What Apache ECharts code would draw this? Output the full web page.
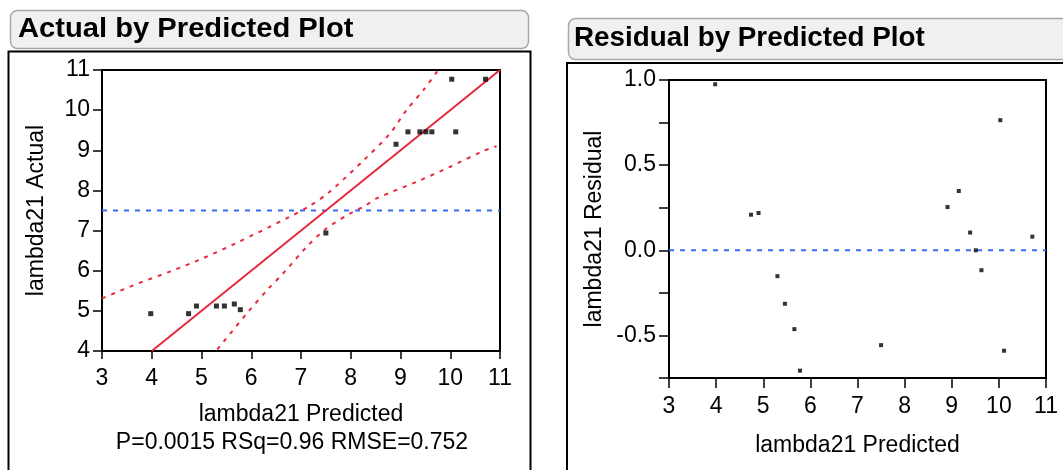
<!DOCTYPE html>
<html><head><meta charset="utf-8">
<script src="https://cdn.jsdelivr.net/npm/echarts@6/dist/echarts.min.js"></script>
<style>html,body{margin:0;padding:0;background:#fff;}#c{width:1063px;height:470px;}</style>
</head><body><div id="c"></div>
<script>
const predicted = [3.98, 4.74, 4.90, 5.30, 5.46, 5.66, 5.78, 7.50, 8.91, 9.15, 9.39, 9.51, 9.63, 10.03, 10.11, 10.71];
const actual    = [4.93, 4.93, 5.12, 5.12, 5.12, 5.17, 5.03, 6.94, 9.15, 9.46, 9.46, 9.46, 9.46, 10.77, 9.46, 10.77];
const residual  = [0.975, 0.209, 0.219, -0.152, -0.314, -0.463, -0.707, -0.557, 0.254, 0.348, 0.104, 0.0, -0.117, 0.764, -0.59, 0.08];
const fitLine   = [[4, 4], [11, 11]];
const meanActual = 7.5;
const upperCurve = [[3.0,5.31],[3.72,5.68],[4.39,5.99],[5.03,6.31],[5.70,6.69],[6.77,7.34],[7.17,7.61],[7.56,7.95],[8.25,8.74],[8.79,9.42],[9.12,10.0],[9.46,10.5],[9.76,11.0]];
const lowerCurve = [[5.32,4.04],[5.90,4.92],[6.35,5.56],[6.64,5.93],[7.11,6.59],[7.51,7.05],[8.05,7.47],[8.28,7.61],[8.52,7.80],[9.37,8.24],[10.0,8.59],[10.66,8.98],[10.93,9.10]];
const xTicksRange = [3, 11];
const yActualRange = [4, 11];
const yResidRange = [-0.75, 1.0];
const titles = ['Actual by Predicted Plot', 'Residual by Predicted Plot'];
const statsText = 'P=0.0015 RSq=0.96 RMSE=0.752';

const FONT = 'Liberation Sans, Arial, sans-serif';
const RED = '#e8283c', BLUE = '#3b6cf5';
const TICK_FS = 23, NAME_FS = 23;
const chart = echarts.init(document.getElementById('c'), null, {renderer: 'canvas'});

function axisCommon(extra) {
  return Object.assign({
    axisLine: {show: true, onZero: false, lineStyle: {color: '#000', width: 2}},
    axisTick: {show: true, inside: false, length: 8, lineStyle: {color: '#000', width: 1.5}},
    splitLine: {show: false},
    nameTextStyle: {color: '#000', fontFamily: FONT, fontSize: NAME_FS},
    nameLocation: 'middle'
  }, extra);
}

const option = {
  animation: false,
  backgroundColor: '#fff',
  grid: [
    {left: 102, top: 70, width: 398, height: 281, show: true, borderColor: '#000', borderWidth: 2, backgroundColor: 'transparent'},
    {left: 669, top: 80, width: 377, height: 298, show: true, borderColor: '#000', borderWidth: 2, backgroundColor: 'transparent'}
  ],
  xAxis: [
    axisCommon({gridIndex: 0, type: 'value', min: xTicksRange[0], max: xTicksRange[1], interval: 1, name: 'lambda21 Predicted', nameGap: 52,
      axisLabel: {color: '#000', fontFamily: FONT, fontSize: TICK_FS, margin: 16}}),
    axisCommon({gridIndex: 1, type: 'value', min: xTicksRange[0], max: xTicksRange[1], interval: 1, name: 'lambda21 Predicted', nameGap: 56,
      axisTick: {show: true, length: 10, lineStyle: {color: '#000', width: 1.5}},
      axisLabel: {color: '#000', fontFamily: FONT, fontSize: TICK_FS, margin: 17}})
  ],
  yAxis: [
    axisCommon({gridIndex: 0, type: 'value', min: yActualRange[0], max: yActualRange[1], interval: 1, name: 'lambda21 Actual', nameGap: 54,
      axisTick: {show: true, length: 9, lineStyle: {color: '#000', width: 1.5}},
      axisLabel: {color: '#000', fontFamily: FONT, fontSize: TICK_FS, margin: 12}}),
    axisCommon({gridIndex: 1, type: 'value', min: yResidRange[0], max: yResidRange[1], interval: 0.25, name: 'lambda21 Residual', nameGap: 63,
      axisTick: {show: true, length: 10, lineStyle: {color: '#000', width: 1.5}},
      axisLabel: {color: '#000', fontFamily: FONT, fontSize: TICK_FS, margin: 13,
        formatter: v => (Math.abs(v * 2 - Math.round(v * 2)) < 1e-6 && v > -0.7) ? v.toFixed(1) : ''}})
  ],
  series: [
    {type: 'line', xAxisIndex: 0, yAxisIndex: 0, data: [[xTicksRange[0], meanActual], [xTicksRange[1], meanActual]], symbol: 'none',
      lineStyle: {color: BLUE, width: 2, type: [5, 6]}, z: 2},
    {type: 'line', xAxisIndex: 0, yAxisIndex: 0, data: fitLine, symbol: 'none', lineStyle: {color: RED, width: 2}, z: 3},
    {type: 'line', xAxisIndex: 0, yAxisIndex: 0, data: upperCurve, symbol: 'none', smooth: 0.3, lineStyle: {color: RED, width: 2, type: [4, 6]}, z: 3},
    {type: 'line', xAxisIndex: 0, yAxisIndex: 0, data: lowerCurve, symbol: 'none', smooth: 0.3, lineStyle: {color: RED, width: 2, type: [4, 6]}, z: 3},
    {type: 'scatter', xAxisIndex: 0, yAxisIndex: 0, data: predicted.map((p, i) => [p, actual[i]]), symbol: 'rect', symbolSize: 5,
      itemStyle: {color: '#000'}, z: 5},
    {type: 'line', xAxisIndex: 1, yAxisIndex: 1, data: [[xTicksRange[0], 0], [xTicksRange[1], 0]], symbol: 'none',
      lineStyle: {color: BLUE, width: 2, type: [5, 6]}, z: 2},
    {type: 'scatter', xAxisIndex: 1, yAxisIndex: 1, data: predicted.map((p, i) => [p, residual[i]]), symbol: 'rect', symbolSize: 4,
      itemStyle: {color: '#000'}, z: 5}
  ],
  graphic: [
    {type: 'rect', shape: {x: 8.5, y: 51.5, width: 522, height: 430}, style: {fill: 'none', stroke: '#000', lineWidth: 2}, z: 0},
    {type: 'rect', shape: {x: 567, y: 63, width: 520, height: 430}, style: {fill: 'none', stroke: '#000', lineWidth: 2}, z: 0},
    {type: 'rect', shape: {x: 10.5, y: 10.5, width: 518, height: 38, r: 7}, style: {fill: '#f0f0f0', stroke: '#a8a8a8', lineWidth: 1.5}, z: 0},
    {type: 'rect', shape: {x: 568.5, y: 18.5, width: 520, height: 41, r: 7}, style: {fill: '#f0f0f0', stroke: '#a8a8a8', lineWidth: 1.5}, z: 0},
    {type: 'text', x: 18, y: 30, scaleX: 1.08, style: {text: titles[0], fill: '#000', font: 'bold 27px ' + FONT, textVerticalAlign: 'middle'}, z: 1},
    {type: 'text', x: 574, y: 39, scaleX: 1.03, style: {text: titles[1], fill: '#000', font: 'bold 27px ' + FONT, textVerticalAlign: 'middle'}, z: 1},
    {type: 'text', x: 292, y: 443, style: {text: statsText, fill: '#000', font: '23px ' + FONT, textAlign: 'center', textVerticalAlign: 'middle'}, z: 1}
  ]
};
chart.setOption(option);
</script></body></html>
